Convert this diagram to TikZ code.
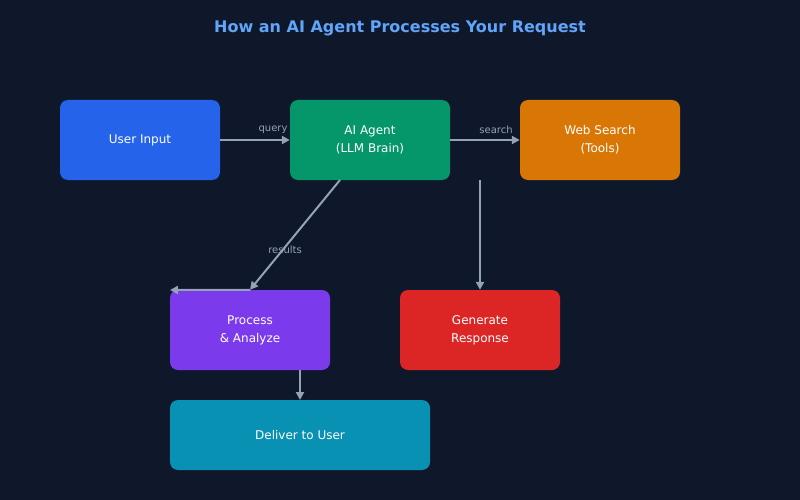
\documentclass[tikz,border=0pt]{standalone}
\usepackage{fontspec}
\setmainfont{DejaVu Sans}
\usetikzlibrary{arrows.meta}
\definecolor{bgc}{HTML}{0F172A}
\definecolor{titlec}{HTML}{60A5FA}
\definecolor{linec}{HTML}{94A3B8}
\definecolor{c_user}{HTML}{2563EB}
\definecolor{c_agent}{HTML}{059669}
\definecolor{c_web}{HTML}{D97706}
\definecolor{c_proc}{HTML}{7C3AED}
\definecolor{c_gen}{HTML}{DC2626}
\definecolor{c_del}{HTML}{0891B2}
\begin{document}
\begin{tikzpicture}[x=1pt,y=-1pt,>={Triangle[length=8pt,width=8pt]},
  box/.style={draw=none,rounded corners=8pt,text=white,align=center,font=\fontsize{12}{18}\selectfont,minimum height=80pt,minimum width=160pt,inner sep=0pt},
  conn/.style={draw=linec,line width=2pt,->},
  lbl/.style={text=linec,font=\fontsize{10}{12}\selectfont}]
%%
\fill[bgc] (0,0) rectangle (800,500);
\node (title) at (400,28) [text=titlec,font=\bfseries\fontsize{16}{20}\selectfont] {How an AI Agent Processes Your Request};
  \node (node_user) at (140,140) [box,fill=c_user] {User Input};
  \node (node_agent) at (370,140) [box,fill=c_agent] {AI Agent\\(LLM Brain)};
  \node (node_web) at (600,140) [box,fill=c_web] {Web Search\\(Tools)};
  \node (node_proc) at (250,330) [box,fill=c_proc] {Process\\\& Analyze};
  \node (node_gen) at (480,330) [box,fill=c_gen] {Generate\\Response};
  \node (node_del) at (300,435) [box,fill=c_del,minimum width=260pt,minimum height=70pt] {Deliver to User};
  \coordinate (c_split) at (480,180);
  \coordinate (c_left) at (170,290);
  \draw [conn] (node_user.east) -- (node_agent.west);
  \draw [conn] (node_agent.east) -- (node_web.west);
  \draw [conn] (c_split) -- (node_gen.north);
  \draw [conn] (340,180) -- (node_proc.north);
  \draw [conn] (node_proc.north) -- (c_left);
  \draw [conn] (300,370) -- (300,400);
  \node (l_query) at (273,130) [lbl] {query};
  \node (l_search) at (496,130) [lbl] {search};
  \node (l_results) at (285,250) [lbl] {results};
%
\end{tikzpicture}
\end{document}
